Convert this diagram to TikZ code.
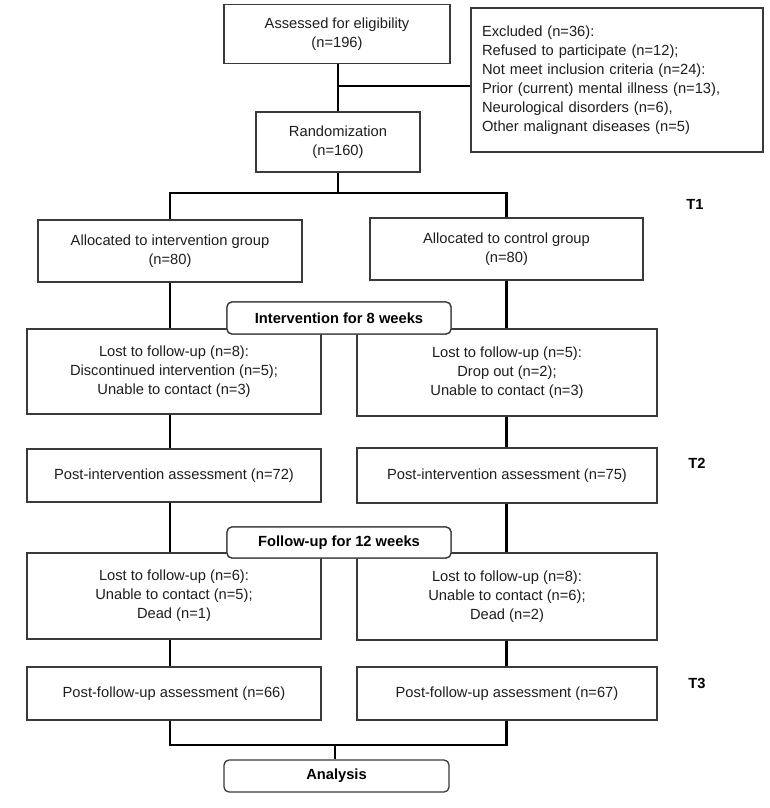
\documentclass[tikz,border=0pt]{standalone}
\usepackage{fontspec}
\setmainfont{Liberation Sans}
\newcommand{\fsz}{\fontsize{14.7}{19}\selectfont}
\definecolor{boxgray}{HTML}{3A3A3A}
\definecolor{txt}{HTML}{1E1E1E}
\begin{document}
\begin{tikzpicture}[x=1pt,y=-1pt,
  box/.style={draw=boxgray, line width=1.3pt, fill=white, inner sep=0pt, align=center, font=\fsz, text=txt},
  rbox/.style={box, rounded corners=5pt, font=\fsz\bfseries, text=black},
  conn/.style={line width=2.6pt, draw=black},
  tlab/.style={font=\fsz\bfseries, text=black, inner sep=0pt}]
\useasboundingbox (0,0) rectangle (769,808);
% boxes
\node[box, minimum width=226pt, minimum height=59pt] (assess) at (337,34) {Assessed for eligibility\\(n=196)};
\node[box, minimum width=292pt, minimum height=144pt, align=left, text width=270pt] (excl) at (617,80) {Excluded (n=36):\\Refused to participate (n=12);\\Not meet inclusion criteria (n=24):\\Prior (current) mental illness (n=13),\\Neurological disorders (n=6),\\Other malignant diseases (n=5)};
\node[box, minimum width=164pt, minimum height=60pt] (rand) at (338,142) {Randomization\\(n=160)};
\node[box, minimum width=264pt, minimum height=62pt] (alloc1) at (170,251) {Allocated to intervention group\\(n=80)};
\node[box, minimum width=273pt, minimum height=62pt] (alloc2) at (506.5,249) {Allocated to control group\\(n=80)};
\node[box, minimum width=294pt, minimum height=85pt] (lost1) at (174,371.5) {Lost to follow-up (n=8):\\Discontinued intervention (n=5);\\Unable to contact (n=3)};
\node[box, minimum width=300pt, minimum height=87pt] (lost2) at (507,372.5) {Lost to follow-up (n=5):\\Drop out (n=2);\\Unable to contact (n=3)};
\node[box, minimum width=294pt, minimum height=53pt] (post1) at (174,475.5) {Post-intervention assessment (n=72)};
\node[box, minimum width=300pt, minimum height=55pt] (post2) at (507,475.5) {Post-intervention assessment (n=75)};
\node[box, minimum width=294pt, minimum height=86pt] (fu1) at (174,596) {Lost to follow-up (n=6):\\Unable to contact (n=5);\\Dead (n=1)};
\node[box, minimum width=300pt, minimum height=87pt] (fu2) at (507,596.5) {Lost to follow-up (n=8):\\Unable to contact (n=6);\\Dead (n=2)};
\node[box, minimum width=294pt, minimum height=53pt] (pf1) at (174,693.5) {Post-follow-up assessment (n=66)};
\node[box, minimum width=300pt, minimum height=53pt] (pf2) at (507,693.5) {Post-follow-up assessment (n=67)};
\node[rbox, minimum width=224pt, minimum height=32pt] (iv) at (339,318) {Intervention for 8 weeks};
\node[rbox, minimum width=224pt, minimum height=31pt] (fw) at (339,542.5) {Follow-up for 12 weeks};
\node[rbox, minimum width=225pt, minimum height=32pt] (ana) at (336.5,776) {Analysis};
% time labels
\node[tlab] (t1) at (695,204) {T1};
\node[tlab] (t2) at (697,463) {T2};
\node[tlab] (t3) at (697,683) {T3};
% connectors
\coordinate (j1) at (338,86);
\coordinate (s1) at (338,193);
\coordinate (s2) at (335,745);
\draw[conn] (assess.south -| rand.north) -- (rand.north);
\draw[conn] (j1) -- (j1 -| excl.west);
\draw[conn] (rand.south) -- (s1);
\draw[conn] (alloc1.north) |- (alloc2.north |- s1) -- (alloc2.north);
\draw[conn] (alloc1.south) -- (alloc1.south |- lost1.north);
\draw[conn] (alloc2.south) -- (alloc2.south |- lost2.north);
\draw[conn] (alloc1.south |- lost1.south) -- (alloc1.south |- post1.north);
\draw[conn] (alloc2.south |- lost2.south) -- (alloc2.south |- post2.north);
\draw[conn] (alloc1.south |- post1.south) -- (alloc1.south |- fu1.north);
\draw[conn] (alloc2.south |- post2.south) -- (alloc2.south |- fu2.north);
\draw[conn] (alloc1.south |- fu1.south) -- (alloc1.south |- pf1.north);
\draw[conn] (alloc2.south |- fu2.south) -- (alloc2.south |- pf2.north);
\draw[conn] (alloc1.south |- pf1.south) |- (s2) -| (alloc2.south |- pf2.south);
\draw[conn] (s2) -- (s2 |- ana.north);
% redraw rounded boxes on top
\node[rbox, minimum width=224pt, minimum height=32pt] at (iv) {Intervention for 8 weeks};
\node[rbox, minimum width=224pt, minimum height=31pt] at (fw) {Follow-up for 12 weeks};
\end{tikzpicture}
\end{document}
